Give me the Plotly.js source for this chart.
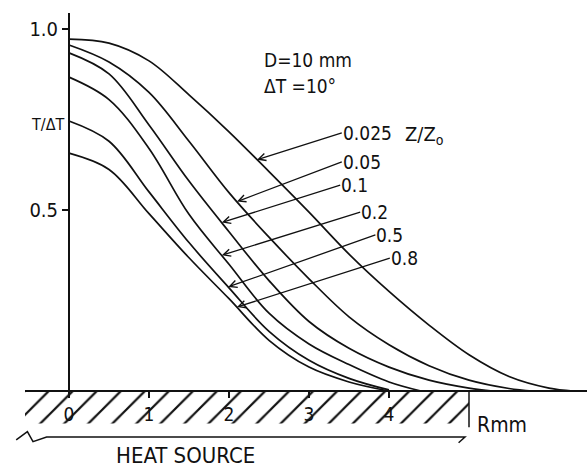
<!DOCTYPE html>
<html><head><meta charset="utf-8">
<script src="https://cdn.plot.ly/plotly-3.0.1.min.js"></script>
<style>html,body{margin:0;padding:0;background:#fff}#chart{width:587px;height:468px}</style>
</head><body><div id="chart"></div>
<script>
// Z/Z0 values of the six curves
const zLabels = ['0.025', '0.05', '0.1', '0.2', '0.5', '0.8'];

// R (mm) and T/ΔT for each curve
const r025 = [0, 0.5, 1.0, 1.5, 2.0, 2.5, 3.0, 3.5, 4.0, 4.5, 5.0, 5.5, 6.0, 6.3];
const t025 = [0.972, 0.961, 0.912, 0.818, 0.716, 0.606, 0.494, 0.378, 0.275, 0.182, 0.100, 0.040, 0.008, 0];

const r005 = [0, 0.5, 1.0, 1.5, 2.0, 2.5, 3.0, 3.5, 4.0, 4.5, 5.0, 5.5, 5.8];
const t005 = [0.956, 0.909, 0.825, 0.690, 0.548, 0.425, 0.310, 0.205, 0.128, 0.070, 0.030, 0.007, 0];

const r01 = [0, 0.5, 1.0, 1.5, 2.0, 2.5, 3.0, 3.5, 4.0, 4.5, 5.0, 5.3];
const t01 = [0.934, 0.876, 0.735, 0.580, 0.440, 0.305, 0.192, 0.118, 0.066, 0.030, 0.008, 0];

const r02 = [0, 0.5, 1.0, 1.5, 2.0, 2.5, 3.0, 3.5, 4.0, 4.4];
const t02 = [0.867, 0.805, 0.670, 0.488, 0.350, 0.215, 0.130, 0.073, 0.025, 0];

const r05 = [0, 0.5, 1.0, 1.5, 2.0, 2.5, 3.0, 3.5, 4.0];
const t05 = [0.746, 0.690, 0.550, 0.410, 0.285, 0.165, 0.085, 0.035, 0.003];

const r08 = [0, 0.5, 1.0, 1.5, 2.0, 2.5, 3.0, 3.5, 4.0];
const t08 = [0.657, 0.612, 0.490, 0.368, 0.255, 0.140, 0.066, 0.025, 0];

// axis ticks
const xTicks = [0, 1, 2, 3, 4];
const yTicks = [0.5, 1.0];
const yTickText = ['0.5', '1.0'];

// ---------------- presentation ----------------
const R = [r025, r005, r01, r02, r05, r08];
const T = [t025, t005, t01, t02, t05, t08];
const FONT = 'Liberation Sans Narrow, DejaVu Sans Condensed, Liberation Sans, Arial, sans-serif';
const INK = '#111';

function interp(xs, ys, x) {
  for (let i = 0; i < xs.length - 1; i++) {
    if (x >= xs[i] && x <= xs[i + 1]) {
      const f = (x - xs[i]) / (xs[i + 1] - xs[i]);
      return ys[i] + f * (ys[i + 1] - ys[i]);
    }
  }
  return ys[ys.length - 1];
}

const traces = [];
// heat source hatched band
const HS_X0 = -0.55, HS_X1 = 5.0, HS_DEPTH = -0.09;
traces.push({
  x: [HS_X0, HS_X1, HS_X1, HS_X0, HS_X0],
  y: [0, 0, HS_DEPTH, HS_DEPTH, 0],
  mode: 'none', fill: 'toself', fillcolor: 'rgba(0,0,0,0)',
  fillpattern: {shape: '/', size: 17, solidity: 0.13, fgcolor: INK, bgcolor: 'white', fgopacity: 1},
  hoverinfo: 'skip', showlegend: false
});

R.forEach((rs, i) => {
  traces.push({
    x: rs, y: T[i], mode: 'lines', name: zLabels[i],
    line: {color: INK, width: 1.7, shape: 'spline', smoothing: 1},
    showlegend: false
  });
});

// arrow tips (R position on the curve) and label tail points
const tipR = [2.35, 2.10, 1.91, 1.91, 1.99, 2.10];
const tailR = [3.41, 3.41, 3.39, 3.64, 3.83, 4.01];
const tailT = [0.713, 0.633, 0.569, 0.494, 0.431, 0.367];

const annotations = zLabels.map((lab, i) => ({
  x: tipR[i], y: interp(R[i], T[i], tipR[i]), xref: 'x', yref: 'y',
  ax: tailR[i], ay: tailT[i], axref: 'x', ayref: 'y',
  text: lab, xanchor: 'left', yanchor: 'middle',
  showarrow: true, arrowhead: 5, arrowsize: 1.1, arrowwidth: 1.3, arrowcolor: INK,
  font: {family: FONT, size: 19, color: INK}, borderpad: 0
}));

function txt(x, y, text, size, anchor) {
  return {x, y, xref: 'x', yref: 'y', text, showarrow: false,
    xanchor: anchor || 'left', yanchor: 'middle',
    font: {family: FONT, size: size || 19, color: INK}};
}
annotations.push(txt(4.17, 0.707, 'Z/Z<sub>o</sub>', 20));
annotations.push(txt(2.41, 0.914, 'D=10 mm', 19));
annotations.push(txt(2.41, 0.843, 'ΔT =10°', 19));
annotations.push(txt(-0.27, 0.735, 'T/ΔT', 16, 'center'));
annotations.push(txt(5.07, -0.094, 'Rmm', 21));
annotations.push(txt(1.45, -0.177, 'HEAT SOURCE', 22, 'center'));

const shapes = [
  // baseline
  {type: 'line', xref: 'x', yref: 'y', x0: -0.55, x1: 6.5, y0: 0, y1: 0, line: {color: INK, width: 2}},
  // vertical axis
  {type: 'line', xref: 'x', yref: 'y', x0: 0, x1: 0, y0: 0, y1: 1.044, line: {color: INK, width: 2}},
  // right edge of heat source
  {type: 'line', xref: 'x', yref: 'y', x0: HS_X1, x1: HS_X1, y0: 0, y1: -0.1, line: {color: INK, width: 1.5}},
  // heat source bracket with break symbol
  {type: 'path', xref: 'x', yref: 'y',
   path: 'M -0.66,-0.135 L -0.52,-0.112 L -0.45,-0.140 L -0.28,-0.127 L 4.95,-0.127 L 4.87,-0.143',
   line: {color: INK, width: 1.5}}
];

const layout = {
  width: 587, height: 468,
  margin: {l: 0, r: 0, t: 7, b: 0},
  paper_bgcolor: 'white', plot_bgcolor: 'white',
  showlegend: false,
  xaxis: {
    range: [-69 / 80, (587 - 69) / 80], anchor: 'free', position: 77 / 461,
    showgrid: false, zeroline: false, showline: false,
    tickmode: 'array', tickvals: xTicks, ticktext: xTicks.map(String),
    ticks: 'outside', ticklen: 6, tickwidth: 1.3, tickcolor: INK,
    tickfont: {family: FONT, size: 19, color: INK}
  },
  yaxis: {
    range: [-(461 - 384) / 362, 384 / 362], anchor: 'free', position: 69 / 587,
    showgrid: false, zeroline: false, showline: false,
    tickmode: 'array', tickvals: yTicks, ticktext: yTickText,
    ticks: 'outside', ticklen: 7, tickwidth: 2, tickcolor: INK,
    tickfont: {family: FONT, size: 20, color: INK}
  },
  annotations, shapes
};

Plotly.newPlot('chart', traces, layout, {staticPlot: true, displayModeBar: false});
</script>
</body></html>
